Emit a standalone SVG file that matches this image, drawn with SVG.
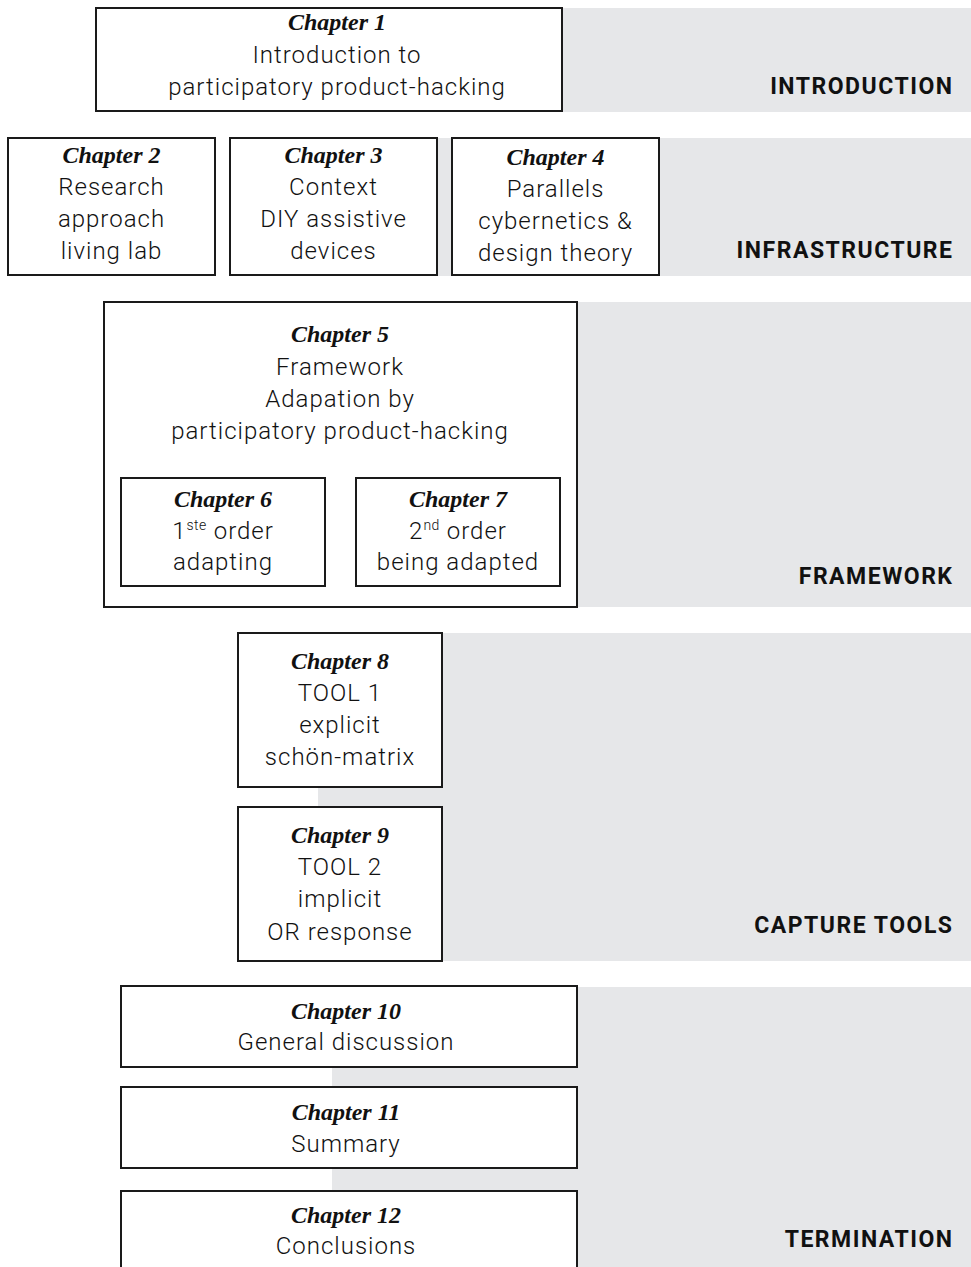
<svg xmlns="http://www.w3.org/2000/svg" width="971" height="1267" viewBox="0 0 971 1267">
  <style>
    .band { fill: #e6e7e9; }
    .box { fill: #ffffff; stroke: #1a1a1a; stroke-width: 2; }
    .ch { font-family: "Liberation Serif", "DejaVu Serif", serif; font-weight: bold; font-style: italic; font-size: 24px; fill: #111; text-anchor: middle; }
    .body { font-family: Roboto, "Liberation Sans", sans-serif; font-weight: 300; font-size: 24px; letter-spacing: 1px; fill: #111; text-anchor: middle; }
    .sup { font-size: 14px; letter-spacing: 0.5px; }
    .part { font-family: Roboto, "Liberation Sans", sans-serif; font-weight: bold; font-size: 23px; letter-spacing: 1.5px; fill: #111; text-anchor: end; }
  </style>

  <!-- part bands -->
  <g id="bands">
    <rect class="band" x="330" y="8" width="641" height="104"/>
    <rect class="band" x="330" y="138" width="641" height="138"/>
    <rect class="band" x="330" y="302" width="641" height="305"/>
    <rect class="band" x="318" y="633" width="653" height="328"/>
    <rect class="band" x="332" y="987" width="639" height="280"/>
  </g>

  <!-- part titles -->
  <g id="part-labels">
    <text class="part" x="953.5" y="94">INTRODUCTION</text>
    <text class="part" x="953.5" y="258">INFRASTRUCTURE</text>
    <text class="part" x="953.5" y="584">FRAMEWORK</text>
    <text class="part" x="953.5" y="933">CAPTURE TOOLS</text>
    <text class="part" x="953.5" y="1247">TERMINATION</text>
  </g>

  <g id="ch1">
    <rect class="box" x="96" y="8" width="466" height="103"/>
    <text class="ch" x="337" y="30">Chapter 1</text>
    <text class="body" x="337" y="63">Introduction to</text>
    <text class="body" x="337" y="95">participatory product-hacking</text>
  </g>

  <g id="ch2">
    <rect class="box" x="8" y="138" width="207" height="137"/>
    <text class="ch" x="111.5" y="163">Chapter 2</text>
    <text class="body" x="111.5" y="195">Research</text>
    <text class="body" x="111.5" y="227">approach</text>
    <text class="body" x="111.5" y="259">living lab</text>
  </g>

  <g id="ch3">
    <rect class="box" x="230" y="138" width="207" height="137"/>
    <text class="ch" x="333.5" y="163">Chapter 3</text>
    <text class="body" x="333.5" y="195">Context</text>
    <text class="body" x="333.5" y="227">DIY assistive</text>
    <text class="body" x="333.5" y="259">devices</text>
  </g>

  <g id="ch4">
    <rect class="box" x="452" y="138" width="207" height="137"/>
    <text class="ch" x="555.5" y="165">Chapter 4</text>
    <text class="body" x="555.5" y="197">Parallels</text>
    <text class="body" x="555.5" y="229">cybernetics &amp;</text>
    <text class="body" x="555.5" y="261">design theory</text>
  </g>

  <g id="ch5">
    <rect class="box" x="104" y="302" width="473" height="305"/>
    <text class="ch" x="340" y="342">Chapter 5</text>
    <text class="body" x="340" y="375">Framework</text>
    <text class="body" x="340" y="407">Adapation by</text>
    <text class="body" x="340" y="439">participatory product-hacking</text>
  </g>

  <g id="ch6">
    <rect class="box" x="121" y="478" width="204" height="108"/>
    <text class="ch" x="223" y="507">Chapter 6</text>
    <text class="body" x="223" y="539">1<tspan class="sup" dy="-9">ste</tspan><tspan dy="9"> order</tspan></text>
    <text class="body" x="223" y="570">adapting</text>
  </g>

  <g id="ch7">
    <rect class="box" x="356" y="478" width="204" height="108"/>
    <text class="ch" x="458" y="507">Chapter 7</text>
    <text class="body" x="458" y="539">2<tspan class="sup" dy="-9">nd</tspan><tspan dy="9"> order</tspan></text>
    <text class="body" x="458" y="570">being adapted</text>
  </g>

  <g id="ch8">
    <rect class="box" x="238" y="633" width="204" height="154"/>
    <text class="ch" x="340" y="669">Chapter 8</text>
    <text class="body" x="340" y="701">TOOL 1</text>
    <text class="body" x="340" y="733">explicit</text>
    <text class="body" x="340" y="765">schön-matrix</text>
  </g>

  <g id="ch9">
    <rect class="box" x="238" y="807" width="204" height="154"/>
    <text class="ch" x="340" y="843">Chapter 9</text>
    <text class="body" x="340" y="875">TOOL 2</text>
    <text class="body" x="340" y="907">implicit</text>
    <text class="body" x="340" y="940">OR response</text>
  </g>

  <g id="ch10">
    <rect class="box" x="121" y="986" width="456" height="81"/>
    <text class="ch" x="346" y="1019">Chapter 10</text>
    <text class="body" x="346" y="1050">General discussion</text>
  </g>

  <g id="ch11">
    <rect class="box" x="121" y="1087" width="456" height="81"/>
    <text class="ch" x="346" y="1120">Chapter 11</text>
    <text class="body" x="346" y="1152">Summary</text>
  </g>

  <g id="ch12">
    <rect class="box" x="121" y="1191" width="456" height="90"/>
    <text class="ch" x="346" y="1223">Chapter 12</text>
    <text class="body" x="346" y="1254">Conclusions</text>
  </g>
</svg>
